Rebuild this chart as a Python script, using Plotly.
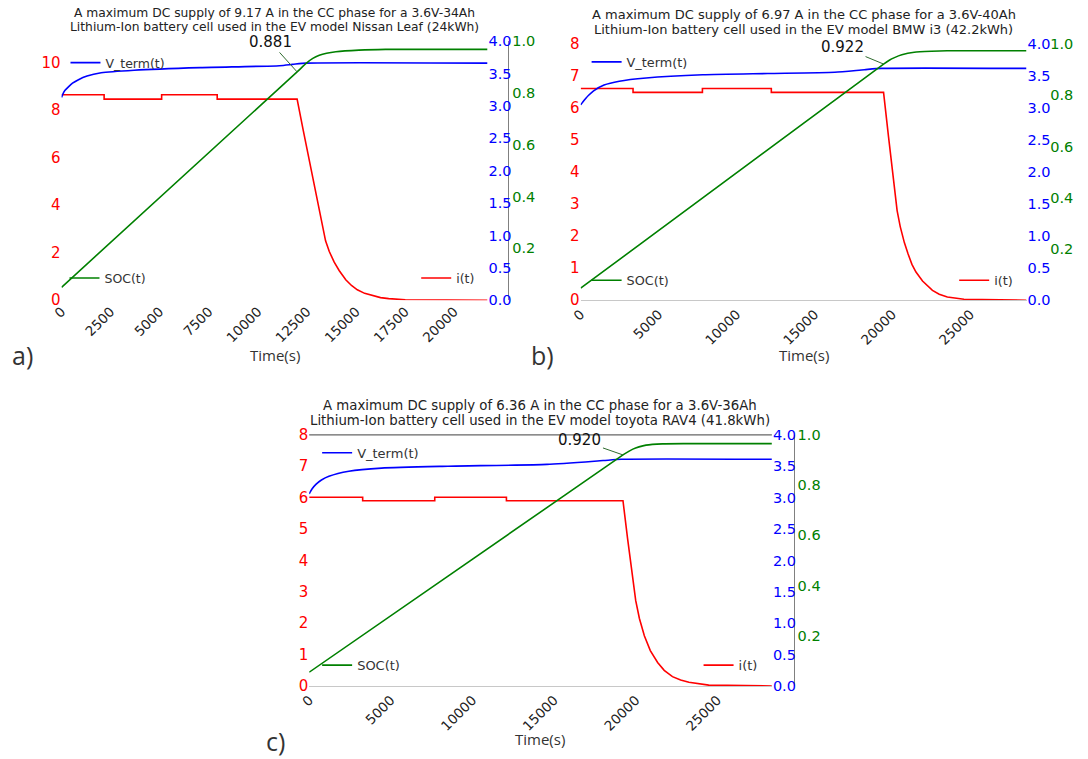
import plotly.graph_objects as go

# figure size and the placement of the figure in the captured page:
# it sits 8 px in from the top-left corner and the page is shrunk vertically
FIG_W, FIG_H = 1080, 759
OFF = 8
Y_SCALE = 759 / 775

# ---------------- (a) Nissan Leaf, 3.6V-34Ah cell ----------------
a_time_i = [0, 2170, 2170, 5100, 5100, 7930, 7930, 12000, 12300, 12600, 12900, 13130,
            13300, 13450, 13640, 13890, 14141, 14478, 14770, 15067, 15440, 15825, 16250,
            16667, 17508, 21700]
a_current = [8.64, 8.64, 8.46, 8.46, 8.64, 8.64, 8.46, 8.46, 7.2, 5.95, 4.7, 3.7,
             3.0, 2.5, 2.05, 1.6, 1.25, 0.86, 0.62, 0.44, 0.29, 0.19, 0.11,
             0.07, 0.02, 0.0]
a_time_v = [0, 80, 180, 340, 560, 840, 1300, 2020, 3700, 7070, 11100, 11770, 12470, 21700]
a_vterm = [3.13, 3.19, 3.24, 3.29, 3.35, 3.40, 3.46, 3.51, 3.55, 3.59, 3.62, 3.64, 3.66, 3.66]
a_time_soc = [0, 12000, 12460, 12800, 13130, 13500, 13975, 15150, 16500, 21700]
a_soc = [0.05, 0.881, 0.914, 0.933, 0.945, 0.953, 0.959, 0.965, 0.968, 0.968]
a_soc_mark = 0.881
a_time_mark = 12000
a_xticks = [0, 2500, 5000, 7500, 10000, 12500, 15000, 17500, 20000]
a_iticks = [0, 2, 4, 6, 8, 10]
a_title = ["A maximum DC supply of 9.17 A in the CC phase for a 3.6V-34Ah",
           "Lithium-Ion battery cell used in the EV model Nissan Leaf (24kWh)"]

# ---------------- (b) BMW i3, 3.6V-40Ah cell ----------------
b_time_i = [0, 3360, 3360, 7810, 7810, 12230, 12230, 19430, 19750, 20000, 20150, 20300,
            20500, 20764, 21000, 21250, 21510, 21930, 22567, 23000, 23522, 24586, 28600]
b_current = [6.61, 6.61, 6.49, 6.49, 6.61, 6.61, 6.49, 6.49, 5.1, 4.0, 3.35, 2.8,
             2.3, 1.8, 1.45, 1.12, 0.88, 0.6, 0.31, 0.19, 0.10, 0.03, 0.0]
b_time_v = [0, 150, 320, 510, 830, 1500, 2480, 4200, 7830, 12000, 16300, 18200, 19300, 28600]
b_vterm = [3.05, 3.10, 3.15, 3.20, 3.27, 3.36, 3.42, 3.47, 3.52, 3.54, 3.56, 3.60, 3.62, 3.62]
b_time_soc = [0, 19430, 19800, 20130, 20600, 21400, 22500, 23500, 28600]
b_soc = [0.047, 0.922, 0.937, 0.947, 0.958, 0.968, 0.972, 0.974, 0.974]
b_soc_mark = 0.922
b_time_mark = 19430
b_xticks = [0, 5000, 10000, 15000, 20000, 25000]
b_iticks = [0, 1, 2, 3, 4, 5, 6, 7, 8]
b_title = ["A maximum DC supply of 6.97 A in the CC phase for a 3.6V-40Ah",
           "Lithium-Ion battery cell used in the EV model BMW i3 (42.2kWh)"]

# ---------------- (c) Toyota RAV4, 3.6V-36Ah cell ----------------
c_time_i = [0, 3275, 3275, 7690, 7690, 12080, 12080, 19220, 19500, 19721, 19850, 20000,
            20226, 20528, 20893, 21341, 21744, 22250, 22750, 23259, 24472, 28340]
c_current = [6.01, 6.01, 5.9, 5.9, 6.01, 6.01, 5.9, 5.9, 4.7, 3.75, 3.2, 2.72,
             2.15, 1.6, 1.13, 0.75, 0.5, 0.3, 0.19, 0.12, 0.03, 0.0]
c_time_v = [0, 180, 410, 750, 1210, 2430, 4430, 8500, 14560, 18000, 19110, 28340]
c_vterm = [3.06, 3.14, 3.21, 3.28, 3.34, 3.42, 3.47, 3.50, 3.53, 3.59, 3.61, 3.61]
c_time_soc = [0, 19220, 19600, 19825, 20200, 20630, 21640, 23000, 28340]
c_soc = [0.055, 0.920, 0.935, 0.943, 0.952, 0.959, 0.964, 0.965, 0.965]
c_soc_mark = 0.920
c_time_mark = 19220
c_xticks = [0, 5000, 10000, 15000, 20000, 25000]
c_iticks = [0, 1, 2, 3, 4, 5, 6, 7, 8]
c_title = ["A maximum DC supply of 6.36 A in the CC phase for a 3.6V-36Ah",
           "Lithium-Ion battery cell used in the EV model toyota RAV4 (41.8kWh)"]

v_ticks = [0, 0.5, 1.0, 1.5, 2.0, 2.5, 3.0, 3.5, 4.0]
soc_ticks = [0.2, 0.4, 0.6, 0.8, 1.0]

TICK_FONT = "DejaVu Sans"
LABEL_FONT = "Open Sans"


def fx(px):
    """page pixel column -> paper fraction"""
    return (px - OFF) / FIG_W


def fy(py):
    """page pixel row -> paper fraction"""
    return 1 - (py / Y_SCALE - OFF) / FIG_H


panels = [
    dict(tag="a)", t_i=a_time_i, i=a_current, t_v=a_time_v, v=a_vterm,
         t_s=a_time_soc, s=a_soc, mark_t=a_time_mark, mark_s=a_soc_mark,
         xticks=a_xticks, iticks=a_iticks, imax=10.9, title=a_title, title_size=12.3,
         box=(60, 490, 40, 300), green_pos=511, green_line=True,
         bottom_line=None, top_line=None,
         title_x=275, title_y=(12, 26), tag_xy=(21, 355), time_xy=(275, 355),
         mark_off=(-27, -30),
         leg_v=(64, 47), leg_s=(63, 263), leg_i=(418, 263), leg_size=12.5),
    dict(tag="b)", t_i=b_time_i, i=b_current, t_v=b_time_v, v=b_vterm,
         t_s=b_time_soc, s=b_soc, mark_t=b_time_mark, mark_s=b_soc_mark,
         xticks=b_xticks, iticks=b_iticks, imax=8, title=b_title, title_size=13,
         box=(584, 1034, 43, 300), green_pos=1057, green_line=False,
         bottom_line="#c8c8c8", top_line=None,
         title_x=809, title_y=(13, 28), tag_xy=(545, 355), time_xy=(809, 355),
         mark_off=(-41, -17),
         leg_v=(590, 46), leg_s=(590, 265), leg_i=(961, 265), leg_size=12.8),
    dict(tag="c)", t_i=c_time_i, i=c_current, t_v=c_time_v, v=c_vterm,
         t_s=c_time_soc, s=c_soc, mark_t=c_time_mark, mark_s=c_soc_mark,
         xticks=c_xticks, iticks=c_iticks, imax=8, title=c_title, title_size=13.3,
         box=(310, 777, 435, 687), green_pos=799, green_line=True,
         bottom_line="#c8c8c8", top_line="#666666",
         title_x=543, title_y=(406, 421), tag_xy=(276, 742), time_xy=(543, 740),
         mark_off=(-43, -15),
         leg_v=(318, 438), leg_s=(318, 651), leg_i=(703, 651), leg_size=13),
]

fig = go.Figure()
layout = dict(
    width=FIG_W, height=FIG_H, margin=dict(l=0, r=0, t=0, b=0),
    paper_bgcolor="white", plot_bgcolor="rgba(0,0,0,0)",
    showlegend=True, annotations=[], shapes=[],
)

for k, p in enumerate(panels):
    xa = "x" if k == 0 else f"x{k + 1}"
    xkey = "xaxis" if k == 0 else f"xaxis{k + 1}"
    n_red, n_blue, n_green = 3 * k + 1, 3 * k + 2, 3 * k + 3
    ya_red = "y" if n_red == 1 else f"y{n_red}"
    ya_blue, ya_green = f"y{n_blue}", f"y{n_green}"
    ykey_red = "yaxis" if n_red == 1 else f"yaxis{n_red}"
    leg_names = ["legend" if k == 0 else f"legend{3 * k + 1}",
                 f"legend{3 * k + 2}", f"legend{3 * k + 3}"]

    x0, x1, y0, y1 = p["box"]
    t_end = p["t_i"][-1]

    layout[xkey] = dict(
        domain=[fx(x0), fx(x1)], anchor=ya_red, range=[0, t_end],
        tickvals=p["xticks"], tickformat="d", tickangle=-45, ticks="",
        tickfont=dict(family=TICK_FONT, size=13.5, color="#222"),
        showgrid=False, zeroline=False,
        showline=p["bottom_line"] is not None,
        linecolor=p["bottom_line"] or "#ccc", linewidth=1,
    )
    layout[ykey_red] = dict(
        domain=[fy(y1), fy(y0)], anchor=xa, range=[0, p["imax"]],
        tickvals=p["iticks"], ticks="", showgrid=False, zeroline=False, showline=False,
        tickfont=dict(family=TICK_FONT, size=15, color="red"),
    )
    layout[f"yaxis{n_blue}"] = dict(
        overlaying=ya_red, anchor=xa, side="right", range=[0, 4],
        tickvals=v_ticks, tickformat=".1f", ticks="", showgrid=False,
        zeroline=False, showline=False,
        tickfont=dict(family=TICK_FONT, size=14.5, color="blue"),
    )
    layout[f"yaxis{n_green}"] = dict(
        overlaying=ya_red, anchor="free", position=fx(p["green_pos"]), side="right",
        range=[0, 1], tickvals=soc_ticks, tickformat=".1f", ticks="",
        showgrid=False, zeroline=False,
        showline=p["green_line"], linecolor="#808080", linewidth=1,
        tickfont=dict(family=TICK_FONT, size=14.5, color="green"),
    )

    fig.add_trace(go.Scatter(
        x=p["t_v"], y=p["v"], mode="lines", name="V_term(t)",
        line=dict(color="blue", width=1.6, shape="spline", smoothing=0.6),
        xaxis=xa, yaxis=ya_blue, legend=leg_names[0]))
    fig.add_trace(go.Scatter(
        x=p["t_s"], y=p["s"], mode="lines", name="SOC(t)",
        line=dict(color="green", width=1.6, shape="spline", smoothing=0.5),
        xaxis=xa, yaxis=ya_green, legend=leg_names[1]))
    fig.add_trace(go.Scatter(
        x=p["t_i"], y=p["i"], mode="lines", name="i(t)",
        line=dict(color="red", width=1.6),
        xaxis=xa, yaxis=ya_red, legend=leg_names[2]))

    for name, (lx, ly) in zip(leg_names, [p["leg_v"], p["leg_s"], p["leg_i"]]):
        layout[name] = dict(
            x=fx(lx), y=fy(ly), xanchor="left", yanchor="top",
            bgcolor="rgba(0,0,0,0)", borderwidth=0, itemwidth=30,
            font=dict(family=TICK_FONT, size=p["leg_size"], color="#333"),
        )

    # value of SOC at the end of the CC phase
    layout["annotations"].append(dict(
        x=p["mark_t"], y=p["mark_s"], xref=xa, yref=ya_green,
        text=f"{p['mark_s']:.3f}", showarrow=True, arrowhead=0, arrowwidth=1,
        arrowcolor="#2f6b2f", ax=p["mark_off"][0], ay=p["mark_off"][1],
        font=dict(family=TICK_FONT, size=15, color="#111"),
    ))
    for line_text, ly in zip(p["title"], p["title_y"]):
        layout["annotations"].append(dict(
            x=fx(p["title_x"]), y=fy(ly), xref="paper", yref="paper", xanchor="center",
            yanchor="middle", showarrow=False, text=line_text,
            font=dict(family=TICK_FONT, size=p["title_size"], color="#222"),
        ))
    gx, gy = p["tag_xy"]
    layout["annotations"].append(dict(
        x=fx(gx), y=fy(gy), xref="paper", yref="paper", xanchor="center",
        yanchor="middle", showarrow=False, text=p["tag"],
        font=dict(family=LABEL_FONT, size=25, color="#333"),
    ))
    mx, my = p["time_xy"]
    layout["annotations"].append(dict(
        x=fx(mx), y=fy(my), xref="paper", yref="paper", xanchor="center",
        yanchor="middle", showarrow=False, text="Time(s)",
        font=dict(family=LABEL_FONT, size=15, color="#333"),
    ))
    if p["top_line"]:
        layout["shapes"].append(dict(
            type="line", xref="paper", yref="paper",
            x0=fx(x0), x1=fx(x1), y0=fy(y0), y1=fy(y0),
            line=dict(color=p["top_line"], width=1.2),
        ))

fig.update_layout(**layout)
fig.write_html("out.html")
